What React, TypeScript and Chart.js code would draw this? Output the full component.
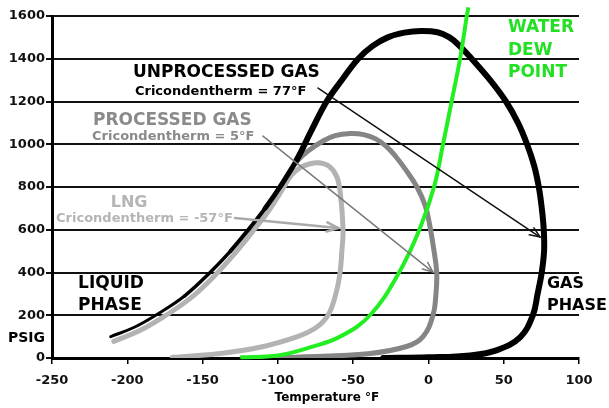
import React, { useEffect, useRef } from 'react';
import { Chart, registerables } from 'chart.js';

Chart.register(...registerables);

const FONT = '"DejaVu Sans", Verdana, sans-serif';

// Axis ticks
const xTicks = [-250, -200, -150, -100, -50, 0, 50, 100];
const yTicks = [0, 200, 400, 600, 800, 1000, 1200, 1400, 1600];

// Unprocessed gas phase envelope (°F, psig)
const unprocessedT = [-211, -195, -180, -162, -145, -131.5, -119.6, -108.5, -98.6, -87.5, -78, -67.6, -57, -46.6, -37, -27, -16, -5, 6, 14, 21, 28.7, 41, 51.5, 59.5, 65.5, 70.2, 73.3, 75.3, 76.6, 76.8, 75.2, 72.5, 69.4, 61, 45.6, 27.6, 0, -30];
const unprocessedP = [100, 145, 205, 290, 400, 500, 600, 700, 800, 926, 1060, 1200, 1305, 1400, 1460, 1500, 1522, 1530, 1524, 1500, 1458, 1400, 1300, 1200, 1100, 1000, 900, 800, 700, 600, 500, 398, 300, 201, 98, 37, 12, 3, 0];

// Processed gas envelope
const processedT = [-98.6, -88, -80, -70, -62, -52, -43, -35, -28, -22, -15, -7.6, -2, 0.9, 3.5, 5.5, 5, 3, -3.6, -14, -40, -85, -110];
const processedP = [800, 915, 968, 1015, 1040, 1050, 1045, 1025, 990, 945, 880, 800, 710, 620, 510, 400, 300, 200, 100, 55, 20, 5, 0];

// LNG envelope
const lngT = [-209, -192, -176.5, -158, -142, -128.5, -116.6, -105.5, -96, -91, -85, -79, -73, -66, -61, -58.5, -56.7, -57.5, -58.7, -61.5, -66.7, -75, -87, -112, -140, -170];
const lngP = [78, 127, 190, 280, 385, 490, 593, 695, 800, 855, 892, 908, 913, 897, 850, 770, 600, 500, 400, 300, 200, 140, 100, 50, 20, 3];

// Water dew point
const waterT = [-125, -100, -78.6, -58.7, -38.8, -19.5, -6, 3.7, 9.7, 15.4, 21, 25.5, 26.5];
const waterP = [3, 12, 50, 100, 200, 400, 600, 800, 1000, 1200, 1400, 1600, 1640];

const labels = {
  unprocessed: 'UNPROCESSED GAS',
  unprocessedCric: 'Cricondentherm = 77°F',
  processed: 'PROCESSED GAS',
  processedCric: 'Cricondentherm = 5°F',
  lng: 'LNG',
  lngCric: 'Cricondentherm = -57°F',
  water: ['WATER', 'DEW', 'POINT'],
  liquid: ['LIQUID', 'PHASE'],
  gas: ['GAS', 'PHASE'],
  yTitle: 'PSIG',
  xTitle: 'Temperature °F',
};

const toPoints = (xs: number[], ys: number[]) => xs.map((x, i) => ({ x, y: ys[i] }));

const drawArrow = (
  ctx: CanvasRenderingContext2D,
  x1: number, y1: number, x2: number, y2: number,
  color: string, width: number, head: number
) => {
  ctx.save();
  ctx.strokeStyle = color;
  ctx.lineWidth = width;
  ctx.lineCap = 'round';
  ctx.lineJoin = 'miter';
  ctx.beginPath();
  ctx.moveTo(x1, y1);
  ctx.lineTo(x2, y2);
  ctx.stroke();
  const a = Math.atan2(y2 - y1, x2 - x1);
  const spread = Math.PI / 8;
  ctx.beginPath();
  ctx.moveTo(x2 - head * Math.cos(a - spread), y2 - head * Math.sin(a - spread));
  ctx.lineTo(x2, y2);
  ctx.lineTo(x2 - head * Math.cos(a + spread), y2 - head * Math.sin(a + spread));
  ctx.stroke();
  ctx.restore();
};

const annotationPlugin = {
  id: 'phaseAnnotations',
  afterDatasetsDraw(chart: any) {
    const { ctx, scales, chartArea } = chart;
    const X = (v: number) => scales.x.getPixelForValue(v);
    const Y = (v: number) => scales.y.getPixelForValue(v);

    drawArrow(ctx, X(-73.3), Y(1263), X(74.1), Y(566), '#111', 1.5, 11);
    drawArrow(ctx, X(-109.9), Y(1038), X(3), Y(402), '#7a7a7a', 1.5, 11);
    drawArrow(ctx, X(-128.5), Y(655), X(-60), Y(608), '#aaaaaa', 2.5, 12);

    const text = (s: string, x: number, y: number, size: number, color: string, align: CanvasTextAlign = 'left') => {
      ctx.save();
      ctx.font = `bold ${size}px ${FONT}`;
      ctx.fillStyle = color;
      ctx.textAlign = align;
      ctx.textBaseline = 'middle';
      ctx.fillText(s, x, y);
      ctx.restore();
    };

    text(labels.unprocessed, X(-196.2), Y(1333), 17, '#000');
    text(labels.unprocessedCric, X(-194.9), Y(1246), 13, '#000');
    text(labels.processed, X(-222.8), Y(1113), 17, '#8a8a8a');
    text(labels.processedCric, X(-223.4), Y(1036), 13, '#8a8a8a');
    text(labels.lng, X(-211), Y(727), 16, '#b5b5b5');
    text(labels.lngCric, X(-247.3), Y(652), 13, '#b5b5b5');
    labels.water.forEach((s, i) => text(s, X(52.8), Y(1545 - i * 106), 17, '#22e022'));
    labels.liquid.forEach((s, i) => text(s, X(-232.7), Y(347 - i * 103), 17, '#000'));
    labels.gas.forEach((s, i) => text(s, X(78.7), Y(347 - i * 103), 16, '#000'));
    text(labels.yTitle, 8, Y(92), 14, '#000');
    text(labels.xTitle, X(-67.4), chartArea.bottom + 40, 12, '#000', 'center');
  },
};

const blackWidth = (c: any) => {
  const x = c.p0.parsed.x;
  const y = c.p0.parsed.y;
  if (y < 50) return 6;
  if (x < -170) return 3;
  if (x < -140) return 3.5;
  if (x < -115) return 4;
  if (x < -95) return 5;
  return 6;
};

export default function App() {
  const ref = useRef<HTMLCanvasElement | null>(null);

  useEffect(() => {
    if (!ref.current) return;
    const chart = new Chart(ref.current, {
      type: 'scatter',
      data: {
        datasets: [
          {
            label: 'Water dew point',
            data: toPoints(waterT, waterP),
            showLine: true,
            borderColor: '#22ee22',
            borderWidth: 4,
            pointRadius: 0,
            tension: 0.4,
            clip: 10,
          } as any,
          {
            label: 'Unprocessed gas',
            data: toPoints(unprocessedT, unprocessedP),
            showLine: true,
            borderColor: '#000',
            borderWidth: 6,
            pointRadius: 0,
            tension: 0.4,
            borderCapStyle: 'round',
            borderJoinStyle: 'round',
            segment: { borderWidth: blackWidth },
          } as any,
          {
            label: 'LNG',
            data: toPoints(lngT, lngP),
            showLine: true,
            borderColor: '#b3b3b3',
            borderWidth: 5,
            pointRadius: 0,
            tension: 0.4,
            borderCapStyle: 'round',
          } as any,
          {
            label: 'Processed gas',
            data: toPoints(processedT, processedP),
            showLine: true,
            borderColor: '#858585',
            borderWidth: 5,
            pointRadius: 0,
            tension: 0.4,
            borderCapStyle: 'round',
          } as any,
        ],
      },
      options: {
        responsive: false,
        animation: false,
        events: [],
        layout: { padding: { top: 16, right: 30, left: 0, bottom: 0 } },
        plugins: {
          legend: { display: false },
          tooltip: { enabled: false },
          title: { display: false },
        },
        scales: {
          x: {
            type: 'linear',
            min: xTicks[0],
            max: xTicks[xTicks.length - 1],
            afterFit: (s: any) => { s.height = 50; },
            afterBuildTicks: (s: any) => { s.ticks = xTicks.map((v) => ({ value: v })); },
            ticks: {
              font: { family: FONT, size: 13, weight: 'bold' },
              color: '#111',
              padding: 9,
              maxRotation: 0,
              callback: (v: any) => String(v),
            },
            grid: { drawOnChartArea: false, drawTicks: true, tickLength: 6, color: '#000', lineWidth: 1.5 },
            border: { display: true, color: '#000', width: 3 },
          },
          y: {
            type: 'linear',
            min: yTicks[0],
            max: yTicks[yTicks.length - 1],
            afterFit: (s: any) => { s.width = 52; },
            afterBuildTicks: (s: any) => { s.ticks = yTicks.map((v) => ({ value: v })); },
            ticks: {
              font: { family: FONT, size: 13, weight: 'bold' },
              color: '#111',
              padding: 1,
              callback: (v: any) => String(v),
            },
            grid: { color: '#111', lineWidth: 2, tickLength: 6 },
            border: { display: true, color: '#000', width: 3 },
          },
        },
      } as any,
      plugins: [annotationPlugin],
    });
    return () => chart.destroy();
  }, []);

  return (
    <div style={{ position: 'fixed', left: 0, top: 0, width: 609, height: 408, background: '#fff' }}>
      <canvas ref={ref} width={609} height={408} style={{ width: 609, height: 408 }} />
    </div>
  );
}
